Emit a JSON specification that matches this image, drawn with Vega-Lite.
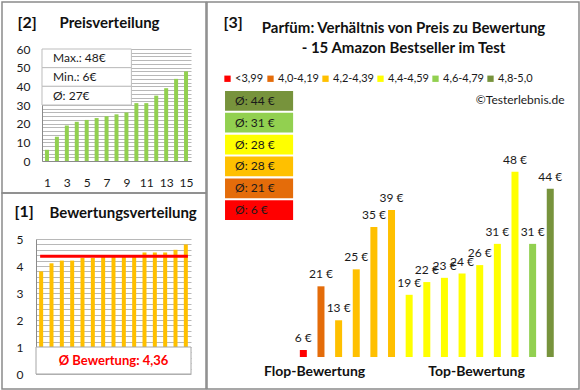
{
  "$schema": "https://vega.github.io/schema/vega-lite/v6.json",
  "background": "white",
  "padding": {"left": 1, "top": 1, "right": 0, "bottom": 0},
  "spacing": -5,
  "resolve": {"legend": {"color": "independent"}},
  "config": {
    "font": "Lato",
    "view": {"stroke": "#8a8a8a", "strokeWidth": 1.5},
    "axis": {"labelFont": "Lato", "labelColor": "#1a1a1a", "labelFontSize": 12, "titleColor": "#111111", "domainColor": "#8a8a8a", "gridColor": "#b8b8b8", "ticks": false, "tickSize": 0, "labelOverlap": false, "labelFlush": false, "minExtent": 0, "maxExtent": 0},
    "legend": {"labelFont": "Lato", "labelColor": "#1a1a1a"}
  },
  "datasets": {
    "prices": [
      {"rank": 1, "price": 6}, {"rank": 2, "price": 13}, {"rank": 3, "price": 19}, {"rank": 4, "price": 21}, {"rank": 5, "price": 22},
      {"rank": 6, "price": 23}, {"rank": 7, "price": 24}, {"rank": 8, "price": 25}, {"rank": 9, "price": 26}, {"rank": 10, "price": 31},
      {"rank": 11, "price": 31}, {"rank": 12, "price": 35}, {"rank": 13, "price": 39}, {"rank": 14, "price": 44}, {"rank": 15, "price": 48}
    ],
    "ratings": [
      {"rank": 1, "rating": 3.8}, {"rank": 2, "rating": 4.1}, {"rank": 3, "rating": 4.2}, {"rank": 4, "rating": 4.2}, {"rank": 5, "rating": 4.3},
      {"rank": 6, "rating": 4.3}, {"rank": 7, "rating": 4.4}, {"rank": 8, "rating": 4.4}, {"rank": 9, "rating": 4.4}, {"rank": 10, "rating": 4.4},
      {"rank": 11, "rating": 4.5}, {"rank": 12, "rating": 4.5}, {"rank": 13, "rating": 4.5}, {"rank": 14, "rating": 4.6}, {"rank": 15, "rating": 4.8}
    ],
    "stats": [
      {"stat": "Max.", "value": 48}, {"stat": "Min.", "value": 6}, {"stat": "Ø", "value": 27}
    ],
    "perfume": [
      {"i": 1, "price": 6, "cat": "<3,99"},
      {"i": 2, "price": 21, "cat": "4,0-4,19"},
      {"i": 3, "price": 13, "cat": "4,2-4,39"},
      {"i": 4, "price": 25, "cat": "4,2-4,39"},
      {"i": 5, "price": 35, "cat": "4,2-4,39"},
      {"i": 6, "price": 39, "cat": "4,2-4,39"},
      {"i": 7, "price": 19, "cat": "4,4-4,59"},
      {"i": 8, "price": 22, "cat": "4,4-4,59"},
      {"i": 9, "price": 23, "cat": "4,4-4,59"},
      {"i": 10, "price": 24, "cat": "4,4-4,59"},
      {"i": 11, "price": 26, "cat": "4,4-4,59"},
      {"i": 12, "price": 31, "cat": "4,4-4,59"},
      {"i": 13, "price": 48, "cat": "4,4-4,59"},
      {"i": 14, "price": 31, "cat": "4,6-4,79"},
      {"i": 15, "price": 44, "cat": "4,8-5,0"}
    ]
  },
  "hconcat": [
    {
      "vconcat": [
        {
          "width": 204,
          "height": 191,
          "layer": [
            {
              "data": {"name": "prices"},
              "mark": {"type": "bar", "size": 4, "color": "#92D050"},
              "encoding": {
                "x": {"field": "rank", "type": "quantitative",
                  "scale": {"domain": [0.5, 15.5], "range": [40, 189], "nice": false, "zero": false, "padding": 0},
                  "axis": {"offset": -32, "values": [1, 3, 5, 7, 9, 11, 13, 15], "tickCount": 100, "format": "d", "labelPadding": 16, "labelOverlap": false, "grid": false, "domain": true,
                    "title": "Preisverteilung", "titleX": 57, "titleY": -134, "titleAngle": 0, "titleAlign": "left", "titleBaseline": "alphabetic", "titleFontSize": 15, "titleFontWeight": "bold"}},
                "y": {"field": "price", "type": "quantitative",
                  "scale": {"domain": [0, 60], "range": [159, 47], "nice": false, "padding": 0},
                  "axis": {"offset": -40, "values": [0, 2, 4, 6, 8, 10, 12, 14, 16, 18, 20, 22, 24, 26, 28, 30, 32, 34, 36, 38, 40, 42, 44, 46, 48, 50, 52, 54, 56, 58, 60], "tickCount": 100, "format": "d",
                    "labelExpr": "datum.value % 10 === 0 ? datum.label : ''", "labelPadding": 12, "labelOverlap": false, "grid": true, "domain": true,
                    "title": "[2]", "titleAngle": 0, "titleX": -25, "titleY": 25, "titleAlign": "left", "titleBaseline": "alphabetic", "titleFontSize": 16, "titleFontWeight": "bold"}}
              }
            },
            {
              "data": {"name": "stats"},
              "layer": [
                {
                  "mark": {"type": "rect", "fill": "white", "stroke": "#bdbdbd", "strokeWidth": 1},
                  "encoding": {
                    "y": {"field": "stat", "type": "nominal", "scale": {"domain": ["Max.", "Min.", "Ø"], "range": [47, 103], "paddingInner": 0, "paddingOuter": 0}, "axis": null},
                    "x": {"datum": 0.5},
                    "x2": {"datum": 9.5}
                  }
                },
                {
                  "transform": [{"calculate": "datum.stat + ': ' + datum.value + '€'", "as": "label"}],
                  "mark": {"type": "text", "align": "left", "baseline": "middle", "dx": 11, "fontSize": 12, "color": "#1a1a1a"},
                  "encoding": {
                    "y": {"field": "stat", "type": "nominal", "axis": null},
                    "x": {"datum": 0.5},
                    "text": {"field": "label"}
                  }
                }
              ]
            }
          ],
          "resolve": {"scale": {"y": "independent"}}
        },
        {
          "width": 204,
          "height": 196,
          "data": {"name": "ratings"},
          "layer": [
            {
              "mark": {"type": "bar", "size": 4, "color": "#FFC000"},
              "encoding": {
                "x": {"field": "rank", "type": "quantitative",
                  "scale": {"domain": [0.5, 15.5], "range": [34, 189], "nice": false, "zero": false, "padding": 0},
                  "axis": {"labels": false, "domain": false, "grid": false, "ticks": false,
                    "title": "Bewertungsverteilung", "titleX": 47, "titleY": -172, "titleAngle": 0, "titleAlign": "left", "titleBaseline": "alphabetic", "titleFontSize": 15, "titleFontWeight": "bold"}},
                "y": {"field": "rating", "type": "quantitative",
                  "scale": {"domain": [0, 5], "range": [181, 46], "nice": false, "padding": 0},
                  "axis": {"offset": -34, "values": [0, 0.2, 0.4, 0.6, 0.8, 1, 1.2, 1.4, 1.6, 1.8, 2, 2.2, 2.4, 2.6, 2.8, 3, 3.2, 3.4, 3.6, 3.8, 4, 4.2, 4.4, 4.6, 4.8, 5], "tickCount": 100,
                    "labelExpr": "abs(datum.value - round(datum.value)) < 0.001 ? ('' + round(datum.value)) : ''", "labelPadding": 13, "labelOverlap": false, "grid": true, "domain": true,
                    "title": "[1]", "titleAngle": 0, "titleX": -22, "titleY": 23, "titleAlign": "left", "titleBaseline": "alphabetic", "titleFontSize": 16, "titleFontWeight": "bold"}}
              }
            },
            {
              "mark": {"type": "rule", "color": "#FF0000", "strokeWidth": 3},
              "encoding": {
                "y": {"aggregate": "mean", "field": "rating", "type": "quantitative"},
                "x": {"datum": 0.9},
                "x2": {"datum": 15.2}
              }
            },
            {
              "transform": [{"aggregate": [{"op": "count", "as": "n"}]}],
              "mark": {"type": "rect", "fill": "white", "stroke": "#a6a6a6", "strokeWidth": 1},
              "encoding": {
                "x": {"datum": 0.5},
                "x2": {"datum": 15.5},
                "y": {"datum": 0},
                "y2": {"datum": 1}
              }
            },
            {
              "transform": [
                {"aggregate": [{"op": "mean", "field": "rating", "as": "avg"}]},
                {"calculate": "'Ø Bewertung: ' + replace(format(datum.avg, '.2f'), '.', ',')", "as": "label"}
              ],
              "mark": {"type": "text", "fontSize": 13, "fontWeight": "bold", "color": "#FF0000", "align": "center", "baseline": "middle"},
              "encoding": {
                "x": {"datum": 8},
                "y": {"datum": 0.5},
                "text": {"field": "label"}
              }
            }
          ]
        }
      ],
      "spacing": 0,
      "bounds": "flush"
    },
    {
      "width": 372,
      "height": 387,
      "layer": [
        {
          "data": {"name": "perfume"},
          "layer": [
            {
              "mark": {"type": "bar", "size": 7},
              "encoding": {
                "x": {"field": "i", "type": "quantitative",
                  "scale": {"domain": [0, 16], "range": [78.7, 360.9], "nice": false, "zero": false, "padding": 0},
                  "axis": {"offset": -32, "values": [1.61, 10.79], "tickCount": 100, "labelExpr": "datum.value < 5 ? 'Flop-Bewertung' : 'Top-Bewertung'",
                    "labelFontSize": 14, "labelFontWeight": "bold", "labelColor": "#111111", "labelPadding": 7, "labelOverlap": false, "domain": false, "grid": false,
                    "title": "©Testerlebnis.de", "titleX": 357, "titleY": -254, "titleAngle": 0, "titleAlign": "right", "titleBaseline": "alphabetic", "titleFontSize": 12, "titleFontWeight": "normal", "titleColor": "#1a1a1a"}},
                "y": {"field": "price", "type": "quantitative",
                  "scale": {"domain": [4.35, 48], "range": [355, 169.7], "nice": false, "zero": false, "padding": 0},
                  "axis": {"labels": false, "domain": false, "grid": false, "ticks": false,
                    "title": "[3]", "titleAngle": 0, "titleX": 16, "titleY": 25, "titleAlign": "left", "titleBaseline": "alphabetic", "titleFontSize": 16, "titleFontWeight": "bold"}},
                "y2": {"datum": 4.35},
                "color": {"field": "cat", "type": "nominal",
                  "scale": {"domain": ["<3,99", "4,0-4,19", "4,2-4,39", "4,4-4,59", "4,6-4,79", "4,8-5,0"],
                    "range": ["#FF0000", "#E46C0A", "#FFC000", "#FFFF00", "#92D050", "#77933C"]},
                  "legend": {"orient": "none", "legendX": 15, "legendY": 71, "direction": "horizontal", "columns": 6, "title": null,
                    "symbolType": "square", "symbolSize": 40, "symbolStrokeWidth": 0, "labelFontSize": 11, "columnPadding": 1, "labelOffset": 2, "padding": 0, "gridAlign": "each"}}
              }
            },
            {
              "transform": [{"calculate": "datum.price + ' €'", "as": "lbl"}],
              "mark": {"type": "text", "baseline": "alphabetic", "dy": -8, "fontSize": 12, "color": "#1a1a1a"},
              "encoding": {
                "x": {"field": "i", "type": "quantitative"},
                "y": {"field": "price", "type": "quantitative"},
                "text": {"field": "lbl"}
              }
            }
          ]
        },
        {
          "data": {"name": "perfume"},
          "transform": [
            {"aggregate": [{"op": "mean", "field": "price", "as": "avg"}], "groupby": ["cat"]},
            {"calculate": "'Ø: ' + round(datum.avg) + ' €'", "as": "lbl"}
          ],
          "layer": [
            {
              "mark": {"type": "rect"},
              "encoding": {
                "y": {"field": "cat", "type": "nominal",
                  "scale": {"domain": ["4,8-5,0", "4,6-4,79", "4,4-4,59", "4,2-4,39", "4,0-4,19", "<3,99"], "range": [89, 218], "paddingInner": 0.1, "paddingOuter": 0},
                  "axis": {"orient": "right", "labels": false, "domain": false, "grid": false, "ticks": false,
                    "title": ["Parfüm: Verhältnis von Preis zu Bewertung", "- 15 Amazon Bestseller im Test"],
                    "titleX": -176, "titleY": 18, "titleAngle": 0, "titleAlign": "center", "titleBaseline": "top", "titleLineHeight": 20, "titleFontSize": 15, "titleFontWeight": "bold"}},
                "x": {"datum": -3.44},
                "x2": {"datum": 0.42},
                "color": {"field": "cat", "type": "nominal"}
              }
            },
            {
              "mark": {"type": "text", "align": "left", "baseline": "middle", "dx": 10, "fontSize": 12, "color": "#1a1a1a"},
              "encoding": {
                "y": {"field": "cat", "type": "nominal"},
                "x": {"datum": -3.44},
                "text": {"field": "lbl"}
              }
            }
          ]
        }
      ],
      "resolve": {"scale": {"y": "independent"}}
    }
  ]
}
